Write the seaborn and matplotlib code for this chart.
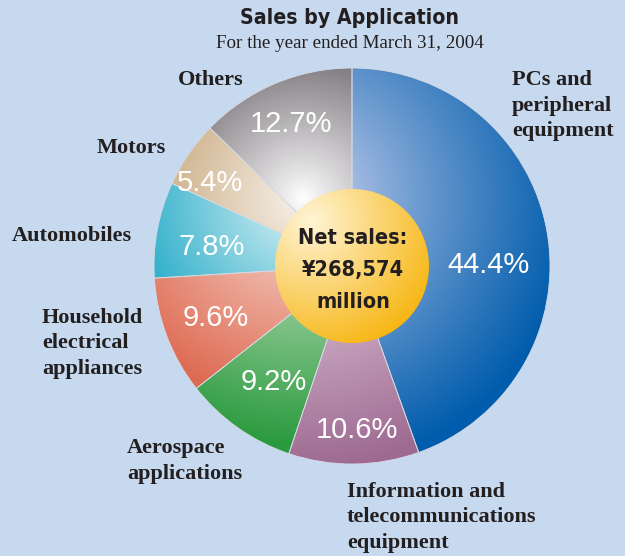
import numpy as np
import matplotlib
matplotlib.use("Agg")
import matplotlib.pyplot as plt
from matplotlib.colors import to_rgb
from matplotlib.patches import Circle
from matplotlib import font_manager as fm
import seaborn as sns

# ---- data ----
categories = ["PCs and\nperipheral\nequipment",
              "Information and\ntelecommunications\nequipment",
              "Aerospace\napplications",
              "Household\nelectrical\nappliances",
              "Automobiles",
              "Motors",
              "Others"]
shares = [44.4, 10.6, 9.2, 9.6, 7.8, 5.4, 12.7]
pct_labels = [f"{v}%" for v in shares]
title = "Sales by Application"
subtitle = "For the year ended March 31, 2004"
center_lines = ["Net sales:", "¥268,574", "million"]

# ---- styles ----
dark_cols = ["#005CAC", "#9E6A92", "#2A9A3E", "#DE6A52", "#36B2CC", "#D2B894", "#858085"]
light_cols = ["#DCDCF4", "#F2E2EC", "#DCEED6", "#F9E4DC", "#E4F5F7", "#F8F2EC", "#FFFFFF"]
gammas = [0.8, 0.95, 0.95, 0.95, 0.95, 0.95, 0.95]
BG = "#C6D9EF"
TXT = "#231F20"
W, H = 625, 556
CX, CY, R = 352, 266, 198   # pixel coords (y down)
RC = 77
FOCUS = (303, 198)

def py(y):
    return H - y

sns.set_theme(style="white")
plt.rcParams["font.family"] = ["Liberation Sans", "DejaVu Sans"]

# pick a condensed bold sans if available
names = {f.name for f in fm.fontManager.ttflist}
if "Liberation Sans Narrow" in names:
    cond_kw = dict(family=["Liberation Sans Narrow", "DejaVu Sans"], fontweight="bold")
    cond_scale = 1.0
else:
    cands = [f for f in fm.fontManager.ttflist
             if ("Condensed" in f.fname or "Narrow" in f.fname) and "Bold" in f.fname
             and "Oblique" not in f.fname and "Italic" not in f.fname
             and f.fname.lower().endswith((".ttf", ".otf"))]
    if cands:
        cond_kw = dict(fontproperties=fm.FontProperties(fname=cands[0].fname))
        cond_scale = 0.8
    else:
        cond_kw = dict(family=["Liberation Sans", "DejaVu Sans"], fontweight="bold")
        cond_scale = 0.84

fig = plt.figure(figsize=(W / 100, H / 100), dpi=100, facecolor=BG)
ax = fig.add_axes([0, 0, 1, 1])
ax.set_facecolor(BG)

wedges, _ = ax.pie(shares, startangle=90, counterclock=False, radius=R,
                   center=(CX, py(CY)), frame=True,
                   wedgeprops=dict(facecolor="none", edgecolor="#D6DAE2",
                                   linewidth=0.6, zorder=3))
ax.set_xlim(0, W)
ax.set_ylim(0, H)
ax.set_aspect("equal")
ax.axis("off")

# gradient grid (data coords)
gx = np.linspace(CX - R, CX + R, 500)
gy = np.linspace(py(CY) - R, py(CY) + R, 500)
XX, YY = np.meshgrid(gx, gy)
fx, fy = FOCUS[0], py(FOCUS[1])
D = np.hypot(XX - fx, YY - fy)
ANG = np.degrees(np.arctan2(YY - py(CY), XX - CX)) % 360
RR = np.hypot(XX - CX, YY - py(CY))

for w, dc, lc, g in zip(wedges, dark_cols, light_cols, gammas):
    t1, t2 = w.theta1 % 360, w.theta2 % 360
    if t1 <= t2:
        m = (ANG >= t1) & (ANG <= t2)
    else:
        m = (ANG >= t1) | (ANG <= t2)
    m &= RR <= R
    dmax = D[m].max() if m.any() else R
    t = np.clip(D / (dmax * 0.97), 0, 1) ** g
    dark = np.array(to_rgb(dc))
    light = np.array(to_rgb(lc))
    img = light[None, None, :] + (dark - light)[None, None, :] * t[..., None]
    im = ax.imshow(img, extent=(gx[0], gx[-1], gy[0], gy[-1]), origin="lower",
                   zorder=2, interpolation="bilinear")
    im.set_clip_path(w)

# center circle with gold gradient
circ = Circle((CX, py(CY)), RC, facecolor="none", edgecolor="none", zorder=5)
ax.add_patch(circ)
cx2 = np.linspace(CX - RC, CX + RC, 300)
cy2 = np.linspace(py(CY) - RC, py(CY) + RC, 300)
CXX, CYY = np.meshgrid(cx2, cy2)
d2 = np.hypot(CXX - (CX - 40), CYY - py(CY - 45))
tt = np.clip(d2 / 150, 0, 1) ** 1.0
gl = np.array(to_rgb("#FFF4D4"))
gd = np.array(to_rgb("#F6B000"))
cimg = gl[None, None, :] + (gd - gl)[None, None, :] * tt[..., None]
cim = ax.imshow(cimg, extent=(cx2[0], cx2[-1], cy2[0], cy2[-1]), origin="lower",
                zorder=5, interpolation="bilinear")
cim.set_clip_path(circ)

for i, line in enumerate(center_lines):
    ax.text(CX + 1, py(238 + 32 * i), line, ha="center", va="center",
            fontsize=19.5 * cond_scale, color=TXT, zorder=6, **cond_kw)

# percent labels
pct_pos = [(489, 265), (357, 430), (274, 382), (216, 318), (212, 247), (210, 183), (291, 124)]
for lab, (x, y) in zip(pct_labels, pct_pos):
    ax.text(x, py(y), lab, ha="center", va="center", fontsize=21,
            color="white", family=["Liberation Sans", "DejaVu Sans"], zorder=6)

# category labels (left-aligned, first line center y)
cat_pos = [(512, 80), (347, 492), (127, 448), (42, 318), (12, 236), (97, 148), (178, 80)]
serif = ["Liberation Serif", "DejaVu Serif"]
for lab, (x, y) in zip(categories, cat_pos):
    for j, line in enumerate(lab.split("\n")):
        ax.text(x, py(y + 25.5 * j), line, ha="left", va="center", fontsize=16,
                fontweight="bold", family=serif, color=TXT, zorder=6)

ax.text(350, py(18), title, ha="center", va="center", fontsize=19 * cond_scale,
        color=TXT, **cond_kw)
ax.text(350, py(43), subtitle, ha="center", va="center", fontsize=13.7,
        family=serif, color=TXT)

fig.savefig("out.png", dpi=100, facecolor=BG)
